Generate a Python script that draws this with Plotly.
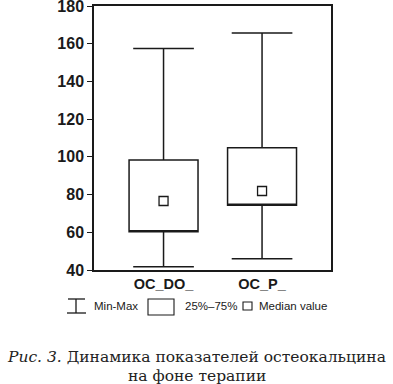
import plotly.graph_objects as go

categories = ["OC_DO_", "OC_P_"]
minimum = [41.7, 46.0]
q1 = [60.3, 74.3]
q3 = [98.3, 104.8]
maximum = [157.5, 165.7]
median = [76.6, 81.9]
y_ticks = [40, 60, 80, 100, 120, 140, 160, 180]
legend_labels = ["Min-Max", "25%\u201375%", "Median value"]
caption_line1_italic = "Рис. 3."
caption_line1 = "Динамика показателей остеокальцина"
caption_line2 = "на фоне терапии"

positions = list(range(len(categories)))
ink = "#1a1a1a"
sans = "Liberation Sans, Arial, sans-serif"

fig = go.Figure()
fig.add_trace(go.Box(
    x=positions,
    q1=q1, median=q1, q3=q3,
    lowerfence=minimum, upperfence=maximum,
    width=0.70, whiskerwidth=0.88,
    fillcolor="rgba(0,0,0,0)",
    line=dict(color=ink, width=1.5),
    boxpoints=False, hoverinfo="skip", showlegend=False,
))
fig.add_trace(go.Scatter(
    x=positions, y=median, mode="markers",
    marker=dict(symbol="square-open", size=9, color=ink, line=dict(width=1.3, color=ink)),
    showlegend=False, hoverinfo="skip",
))

L, R, T, B = 94, 62, 6, 114
W, H = 393, 384
pw, ph = W - L - R, H - T - B

def px(x):
    return (x - L) / pw

def py(y):
    return (H - B - y) / ph

shapes = []
shapes.append(dict(type="line", xref="paper", yref="paper", x0=px(76), x1=px(76), y0=py(299), y1=py(313), line=dict(color=ink, width=1.3)))
shapes.append(dict(type="line", xref="paper", yref="paper", x0=px(68), x1=px(85), y0=py(299), y1=py(299), line=dict(color=ink, width=1.3)))
shapes.append(dict(type="line", xref="paper", yref="paper", x0=px(67), x1=px(86), y0=py(313), y1=py(313), line=dict(color=ink, width=1.3)))
shapes.append(dict(type="rect", xref="paper", yref="paper", x0=px(148), x1=px(174), y0=py(299), y1=py(315), line=dict(color=ink, width=1.1)))
shapes.append(dict(type="rect", xref="paper", yref="paper", x0=px(243), x1=px(252), y0=py(302), y1=py(310), line=dict(color=ink, width=1.1)))

legend_font = dict(family=sans, size=11.5, color=ink)
annotations = []
for label, xpos in zip(legend_labels, [92, 183, 257]):
    annotations.append(dict(text=label, xref="paper", yref="paper", x=px(xpos), y=py(306),
                            xanchor="left", yanchor="middle", showarrow=False, font=legend_font))

serif = "DejaVu Serif, Liberation Serif, serif"
annotations.append(dict(
    text=f"<i>{caption_line1_italic}</i> {caption_line1}",
    xref="paper", yref="paper", x=px(W / 2), y=py(357), xanchor="center", yanchor="middle",
    showarrow=False, font=dict(family=serif, size=15.5, color="#222")))
annotations.append(dict(
    text=caption_line2,
    xref="paper", yref="paper", x=px(W / 2), y=py(376), xanchor="center", yanchor="middle",
    showarrow=False, font=dict(family=serif, size=15.5, color="#222")))

fig.update_layout(
    width=W, height=H,
    margin=dict(l=L, r=R, t=T, b=B, autoexpand=False),
    paper_bgcolor="white", plot_bgcolor="white",
    shapes=shapes, annotations=annotations,
    xaxis=dict(range=[-0.706, 1.70], tickvals=positions, ticktext=categories, automargin=False,
               showgrid=False, zeroline=False, showline=True, linecolor=ink, linewidth=1.5,
               mirror=True, ticks="", ticklen=0, ticklabeloverflow="allow",
               tickfont=dict(family=sans, size=14.5, color=ink, weight="bold")),
    yaxis=dict(range=[40, 180], tickvals=y_ticks, showgrid=False, zeroline=False, automargin=False,
               showline=True, linecolor=ink, linewidth=1.5, mirror=True, ticklabeloverflow="allow",
               ticks="outside", ticklen=5, tickwidth=1.3, tickcolor=ink,
               tickfont=dict(family=sans, size=16, color=ink, weight="bold")),
)

fig.write_html("out.html", config={"displayModeBar": False},
               post_script="document.body.style.margin='0';document.body.style.overflow='hidden';")
